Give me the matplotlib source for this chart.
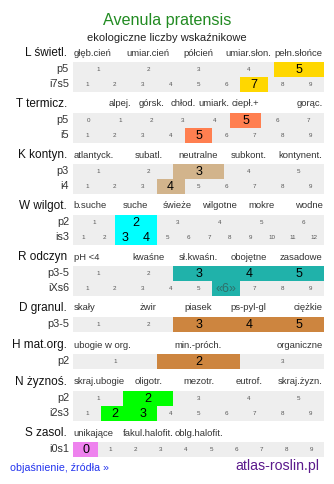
import matplotlib
matplotlib.use('Agg')
import matplotlib.pyplot as plt

plt.rcParams['font.family'] = ['Liberation Sans', 'DejaVu Sans']

# ------------------------------- data ------------------------------- #
title = 'Avenula pratensis'
subtitle = 'ekologiczne liczby wskaźnikowe'

section_names = ['L świetl.', 'T termicz.', 'K kontyn.', 'W wilgot.', 'R odczyn',
                 'D granul.', 'H mat.org.', 'N żyznoś.', 'S zasol.']
section_colors = ['#ffd700', '#ff7f50', '#d2b48c', '#00ffff', '#20b2aa',
                  '#cd853f', '#cd853f', '#00ff00', '#ee82ee']

# header labels (None = empty slot)
head_L = ['głęb.cień', 'umiar.cień', 'półcień', 'umiar.słon.', 'pełn.słońce']
head_T = [None, 'alpej.', 'górsk.', 'chłod.', 'umiark.', 'ciepł.+', None, 'gorąc.']
head_K = ['atlantyck.', 'subatl.', 'neutralne', 'subkont.', 'kontynent.']
head_W = ['b.suche', 'suche', 'świeże', 'wilgotne', 'mokre', 'wodne']
head_R = ['pH <4', 'kwaśne', 'sł.kwaśn.', 'obojętne', 'zasadowe']
head_D = ['skały', 'żwir', 'piasek', 'ps-pyl-gl', 'ciężkie']
head_H = ['ubogie w org.', 'min.-próch.', 'organiczne']
head_N = ['skraj.ubogie', 'oligotr.', 'mezotr.', 'eutrof.', 'skraj.żyzn.']
head_S = ['unikające', 'fakul.halofit.', 'oblg.halofit.', None, None]
headers = [head_L, head_T, head_K, head_W, head_R, head_D, head_H, head_N, head_S]

scale5 = [1, 2, 3, 4, 5]
scale9 = [1, 2, 3, 4, 5, 6, 7, 8, 9]
scale_T = [0, 1, 2, 3, 4, 5, 6, 7]
scale_W6 = [1, 2, 3, 4, 5, 6]
scale_W12 = [1, 2, 3, 4, 5, 6, 7, 8, 9, 10, 11, 12]
scale_H = [1, 2, 3]
scale_S = [0, 1, 2, 3, 4, 5, 6, 7, 8, 9]

# rows: (label, scale, highlighted values)
rows_L = [('p5', scale5, [5]), ('i7s5', scale9, [7])]
rows_T = [('p5', scale_T, [5]), ('i5', scale9, [5])]
rows_K = [('p3', scale5, [3]), ('i4', scale9, [4])]
rows_W = [('p2', scale_W6, [2]), ('is3', scale_W12, [3, 4])]
rows_R = [('p3-5', scale5, [3, 4, 5]), ('iXs6', scale9, [6])]
rows_D = [('p3-5', scale5, [3, 4, 5])]
rows_H = [('p2', scale_H, [2])]
rows_N = [('p2', scale5, [2]), ('i2s3', scale9, [2, 3])]
rows_S = [('i0s1', scale_S, [0])]
rows = [rows_L, rows_T, rows_K, rows_W, rows_R, rows_D, rows_H, rows_N, rows_S]

# special display text for highlighted cells
special = {('iXs6', 6): '«6»'}

footer_left = 'objaśnienie, źródła »'
footer_right = 'atlas-roslin.pl'

# ------------------------------- plot ------------------------------- #
fig = plt.figure(figsize=(3.34, 4.84), dpi=100)
ax = fig.add_axes([0, 0, 1, 1])
ax.set_xlim(0, 334)
ax.set_ylim(484, 0)
ax.axis('off')

x0, x1 = 73, 324

ax.text(167, 20, title, ha='center', va='center', fontsize=11.6, color='#228b22')
ax.text(167, 38, subtitle, ha='center', va='center', fontsize=8, color='#222222')

hy = 53
for name, col, head, rws in zip(section_names, section_colors, headers, rows):
    ax.text(67, hy, name, ha='right', va='center', fontsize=8.5, color='#111111')
    n = len(head)
    w = (x1 - x0) / n
    for k, lab in enumerate(head):
        if lab is None:
            continue
        if k == 0:
            ax.text(x0 + 0.5, hy, lab, ha='left', va='center', fontsize=6.8, color='#333333')
        elif k == n - 1:
            ax.text(x1 - 1.5, hy, lab, ha='right', va='center', fontsize=6.8, color='#333333')
        else:
            ax.text(x0 + (k + 0.5) * w, hy, lab, ha='center', va='center',
                    fontsize=6.8, color='#333333')

    for i, (rlab, scale, hi) in enumerate(rws):
        top = hy + 9 + 15 * i
        yc = top + 7.25
        ax.text(69, yc, rlab, ha='right', va='center', fontsize=7.8, color='#333333')
        m = len(scale)
        cw = (x1 - x0) / m
        ax.barh(yc, x1 - x0, left=x0, height=14.5, color='#eeeeee', linewidth=0)
        for j, v in enumerate(scale):
            cx = x0 + (j + 0.5) * cw
            if v in hi:
                ax.barh(yc, cw, left=x0 + j * cw, height=14.5, color=col, linewidth=0)
                txt = special.get((rlab, v), str(v))
                tc = '#2f6f6a' if (rlab, v) in special else 'black'
                ax.text(cx, yc + 0.5, txt, ha='center', va='center', fontsize=9, color=tc)
            else:
                ax.text(cx, yc, str(v), ha='center', va='center', fontsize=4.5, color='#555555')
    hy += 22 + 15 * len(rws) - (len(rws) - 1)

ax.text(10, 468, footer_left, ha='left', va='center', fontsize=7.7, color='#2233ee')
ax.text(319, 466, footer_right, ha='right', va='center', fontsize=10.2, color='#5b1a8c')

fig.savefig('out.png', dpi=100)
